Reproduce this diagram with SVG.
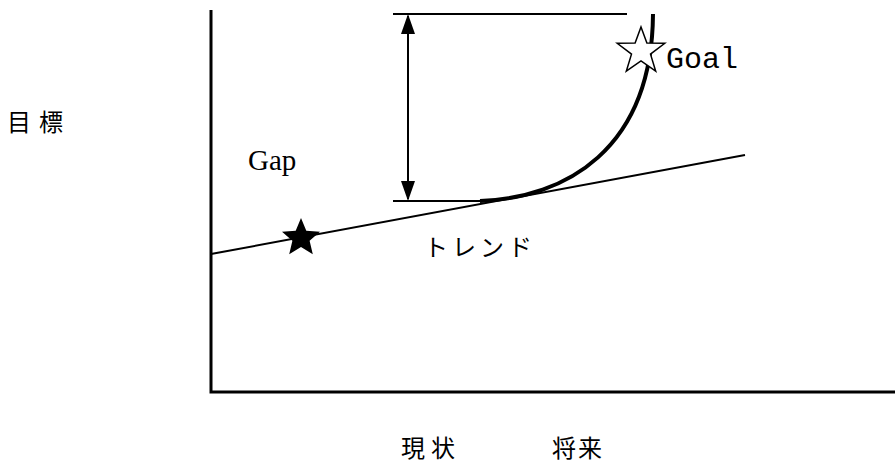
<svg xmlns="http://www.w3.org/2000/svg" width="895" height="465" viewBox="0 0 895 465">
<style>
.ln{stroke:#000;fill:none}
.t{font-family:"Liberation Serif",serif;fill:#000}
.m{font-family:"Liberation Mono",monospace;fill:#000}
.j{font-family:"Noto Sans CJK JP",sans-serif;fill:#000}
</style>
<rect width="895" height="465" fill="#fff"/>
<g id="axes">
<path class="ln" d="M211,10 V392 H895" stroke-width="3"/>
</g>
<g id="connectors">
<path class="ln" d="M211,254 L745,155" stroke-width="2"/>
<path class="ln" d="M393,14 H627" stroke-width="2"/>
<path class="ln" d="M393,201 H480" stroke-width="2"/>
<path class="ln" d="M480,201 C565,198 652,150 653,14" stroke-width="4"/>
<line class="ln" x1="408" y1="16" x2="408" y2="199" stroke-width="2"/>
<path d="M408,14 L401,34 L415,34 z" fill="#000"/>
<path d="M408,201 L401,181 L415,181 z" fill="#000"/>
</g>
<g id="current-star">
<polygon points="301,218 306.3,230.7 320,231.8 309.6,240.7 312.8,254.2 301,246.9 289.2,254.2 292.4,240.7 282,231.8 295.7,230.7" fill="#000"/>
</g>
<g id="goal-star">
<polygon points="641,27 646.9,42.9 664.8,43.3 650.5,54.1 655.7,71.2 641,61 626.3,71.2 631.5,54.1 617.2,43.3 635.1,42.9" fill="#fff" stroke="#000" stroke-width="1.5"/>
</g>
<g id="labels">
<text class="m" x="666" y="68" font-size="29" textLength="72" lengthAdjust="spacingAndGlyphs">Goal</text>
<text class="j" x="7" y="131" font-size="24" letter-spacing="8">目標</text>
<text class="t" x="248" y="170" font-size="29">Gap</text>
<text class="j" x="424" y="256" font-size="24" letter-spacing="4">トレンド</text>
<text class="j" x="401" y="457" font-size="24" letter-spacing="6">現状</text>
<text class="j" x="552" y="457" font-size="24" letter-spacing="2">将来</text>
</g>
</svg>
